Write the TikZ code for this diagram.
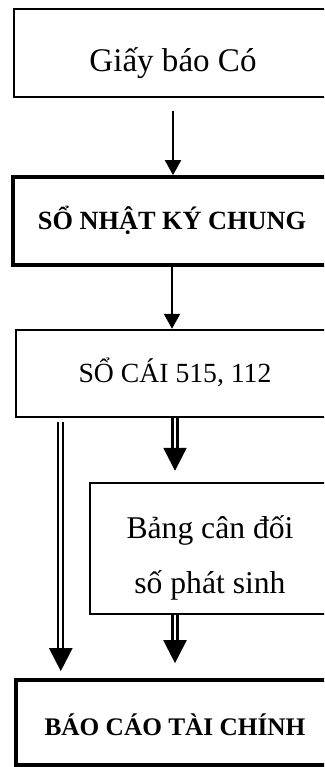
\documentclass[tikz,border=0pt]{standalone}
\usepackage{fontspec}
\setmainfont{Liberation Serif}
\usetikzlibrary{arrows.meta}

\begin{document}
\begin{tikzpicture}[
  x=0.025cm, y=-0.025cm,
  docbox/.style={draw, line width=1.7pt, inner sep=0pt, text depth=0pt},
  mainbox/.style={docbox, line width=2.6pt},
  onearr/.style={-{Triangle[width=0.4cm, length=0.375cm]}, line width=1.4pt},
  dblarr/.style={-{Triangle[width=0.575cm, length=0.575cm]}, double, line width=1.6pt, double distance=1.9pt}
]
\useasboundingbox (0,0) rectangle (324,767);
\clip (0,0) rectangle (324,767);

% boxes (right side runs off the page)
\node[docbox, line width=2pt, minimum width=7.95cm, minimum height=2.2cm, text height=27pt,
  font=\fontsize{23.5}{28}\selectfont] (giay) at (173,53) {Giấy báo Có};
\node[mainbox, minimum width=7.95cm, minimum height=2.2cm, text height=12.8pt,
  font=\bfseries\fontsize{18.7}{22}\selectfont] (nkc) at (172,221) {SỔ NHẬT KÝ CHUNG};
\node[docbox, minimum width=7.95cm, minimum height=2.175cm, text height=13.5pt,
  font=\fontsize{19.7}{24}\selectfont] (socai) at (175,373.5) {SỔ CÁI 515, 112};
\node[docbox, minimum width=6cm, minimum height=3.275cm, text height=63.3pt, align=center,
  font=\fontsize{22.5}{39}\selectfont] (bcd) at (210,548.5) {Bảng cân đối\\số phát sinh};
\node[mainbox, minimum width=7.95cm, minimum height=2.125cm, text height=17.8pt,
  font=\bfseries\fontsize{18}{22}\selectfont] (bctc) at (175,722.5) {BÁO CÁO TÀI CHÍNH};

% arrows
\draw[onearr, shorten <=0.325cm] (giay.south) -- (giay.south |- nkc.north);
\draw[onearr] (nkc.south) -- (nkc.south |- socai.north);
\coordinate (lft) at ([xshift=1.15cm]socai.south west);
\draw[dblarr, shorten <=0.1cm, shorten >=0.175cm] (lft) -- (lft |- bctc.north);
\draw[dblarr, shorten >=0.275cm] (socai.south) -- (socai.south |- bcd.north);
\draw[dblarr, shorten >=0.375cm] (bcd.south -| bctc.north) -- (bctc.north);
\end{tikzpicture}
\end{document}
